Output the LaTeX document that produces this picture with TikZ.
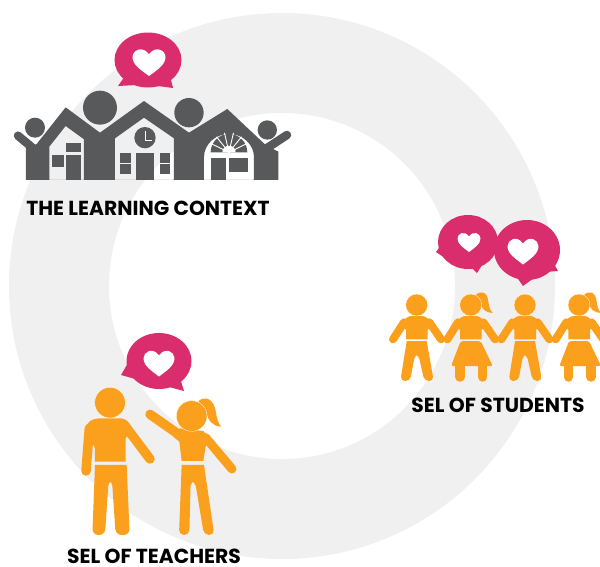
\documentclass[tikz,border=0pt]{standalone}
\usepackage{fontspec}
\newfontfamily\labelfont{Poppins}
\definecolor{ringGray}{HTML}{F0F0F0}
\definecolor{houseGray}{HTML}{58595B}
\definecolor{bubblePink}{HTML}{D92D6D}
\definecolor{peopleOrange}{HTML}{FBA01D}
\tikzset{
	sellabel/.style = {font = \labelfont\bfseries\fontsize{20.3}{22}\selectfont, text = black, inner sep = 0pt},
	bubble/.style = {fill = bubblePink},
	limb/.style = {draw = peopleOrange, line cap = round, line width = #1},
	houselimb/.style = {draw = houseGray, line cap = round, line width = 8.5pt},
	heart/.pic = {
		\fill [white] (0, 0.5) .. controls (-0.25, 0.28) and (-0.5, 0.1) .. (-0.5, -0.18)
			.. controls (-0.5, -0.42) and (-0.2, -0.6) .. (0, -0.28)
			.. controls (0.2, -0.6) and (0.5, -0.42) .. (0.5, -0.18)
			.. controls (0.5, 0.1) and (0.25, 0.28) .. (0, 0.5) -- cycle;
	},
	kidboy/.pic = {
		\fill [peopleOrange] (-32, 103) -- (-32, 75) [rounded corners = 3pt] -- (-48, 55) -- (-25, 33) -- (25, 33) -- (48, 55) [sharp corners] -- (33, 75) -- (33, 103) -- cycle;
		\draw [limb = 8pt] (-38, 52) to (-71, 103);
		\draw [limb = 8pt] (38, 52) to (73, 103);
		\fill [peopleOrange] (-30, 108) -- (30, 108) [rounded corners = 4.5pt] -- (51, 228) -- (23, 228) -- (5, 148) -- (-5, 148) -- (-20, 228) -- (-49, 228) [sharp corners] -- cycle;
		\fill [peopleOrange, draw = white, line width = 0.3pt] (0, 0) circle (33);
	},
	kidgirl/.pic = {
		\fill [peopleOrange] (15, -30) .. controls (30, -45) and (50, -40) .. (53, -10)
			.. controls (55, 5) and (58, 15) .. (66, 24) .. controls (45, 24) and (32, 10) .. (30, -5) -- cycle;
		\fill [peopleOrange] (-32, 103) -- (-32, 75) [rounded corners = 3pt] -- (-48, 55) -- (-25, 33) -- (25, 33) -- (48, 55) [sharp corners] -- (33, 75) -- (33, 103) -- cycle;
		\draw [limb = 8pt] (-38, 52) to (-70, 103);
		\draw [limb = 8pt] (38, 52) to (73, 103);
		\fill [peopleOrange, rounded corners = 2pt] (-30, 108) -- (30, 108) -- (66, 183) -- (-59, 183) -- cycle;
		\draw [limb = 9.5pt] (-32, 180) to (-32, 216);
		\draw [limb = 9.5pt] (36, 180) to (36, 216);
		\fill [peopleOrange, draw = white, line width = 0.3pt] (0, 0) circle (33);
	}
}

\begin{document}
\begin{tikzpicture}[x = 1pt, y = -1pt]
		\clip (0, 0) rectangle (600, 566);
		%%%%%%%%%%%%% ring
		\fill [ringGray, even odd rule] (282, 286) circle (273) (282, 286) circle (173);
		%%%%%%%%%%%%% houses
		\begin{scope}[shift = {(0, 20)}, scale = 0.3333]
			\draw [houselimb] (54, 347) to (97, 383);
			\draw [houselimb] (803, 383) to (861, 345);
			\fill [houseGray, even odd rule] (78, 480) -- (78, 385) -- (110, 372) -- (197, 262) -- (300, 338) -- (432, 243)
				-- (567, 338) -- (682, 267) -- (797, 375) -- (835, 395) -- (835, 480) -- cycle
				(148, 480) -- (148, 380) -- (197, 318) -- (252, 358) -- (252, 480) -- cycle
				(345, 480) -- (345, 355) -- (432, 293) -- (522, 355) -- (522, 480) -- cycle
				(612, 480) -- (612, 412) arc [start angle = 180, end angle = 360, x radius = 75, y radius = 70] -- (762, 480) -- cycle;
			\fill [houseGray] (300, 263) circle (51);
			\fill [houseGray] (567, 278) circle (44);
			\fill [houseGray] (105, 323) circle (30);
			\fill [houseGray] (802, 330) circle (29);
			%%%%%%%%%%%%% house one
			\fill [houseGray] (197, 370) rectangle (243, 397);
			\fill [houseGray] (155, 405) rectangle (192, 440);
			\fill [houseGray] (197, 405) rectangle (243, 480);
			%%%%%%%%%%%%% house two
			\fill [houseGray] (435, 353) circle (32);
			\draw [white, line width = 0.8pt] (435, 332) -- (435, 361) -- (456, 361);
			\fill [houseGray] (360, 398) rectangle (392, 428);
			\fill [houseGray] (360, 433) rectangle (392, 463);
			\fill [houseGray] (408, 400) rectangle (462, 480);
			\fill [houseGray] (480, 398) rectangle (510, 428);
			\fill [houseGray] (480, 433) rectangle (510, 463);
			%%%%%%%%%%%%% house three
			\fill [houseGray] (632, 397) arc [start angle = 180, end angle = 360, radius = 55] -- cycle;
			\foreach \ang in {206, 231, 257, 283, 309, 334} {
				\draw [white, line width = 0.9pt] (687, 397) -- ++(\ang : 60);
			}
			\fill [white] (667, 397) arc [start angle = 180, end angle = 360, radius = 20] -- cycle;
			\fill [houseGray] (633, 413) rectangle (677, 480);
			\fill [houseGray] (688, 413) rectangle (743, 457);
		\end{scope}
		%%%%%%%%%%%%% bubble above the houses
		\fill [bubble] (148, 60) ellipse [x radius = 33.5, y radius = 27.5];
		\fill [bubble] (118, 86) -- (125, 76) -- (137, 85) -- cycle;
		\fill [bubble] (173, 88) -- (170, 76) -- (158, 86) -- cycle;
		\pic [xscale = 33, yscale = 28] at (149, 62) {heart};
		%%%%%%%%%%%%% bubbles of the students
		\fill [bubble] (468, 242) ellipse [x radius = 30, y radius = 27];
		\fill [bubble] (436, 252) -- (444, 241) -- (451, 262) -- cycle;
		\fill [bubble] (477, 273) -- (469, 265) -- (484, 262) -- cycle;
		\fill [bubble] (527, 250) ellipse [x radius = 33, y radius = 30];
		\fill [bubble] (558, 271) -- (552, 260) -- (544, 272) -- cycle;
		\fill [bubble] (523, 286) -- (516, 276) -- (534, 278) -- cycle;
		\pic [xscale = 23, yscale = 20] at (469, 242) {heart};
		\pic [xscale = 31, yscale = 27] at (523, 251) {heart};
		%%%%%%%%%%%%% students
		\pic [scale = 0.3333] at (416.7, 305) {kidboy};
		\pic [scale = 0.3333] at (470.7, 305) {kidgirl};
		\pic [scale = 0.3333] at (525, 305) {kidboy};
		\pic [scale = 0.3333] at (579, 305) {kidgirl};
		%%%%%%%%%%%%% bubble of the teachers
		\fill [bubble] (159, 361) ellipse [x radius = 32.5, y radius = 28];
		\fill [bubble] (121, 375) -- (128, 363) -- (139, 380) -- cycle;
		\fill [bubble] (184, 391) -- (180, 378) -- (169, 387) -- cycle;
		\pic [xscale = 31, yscale = 27] at (159, 363) {heart};
		%%%%%%%%%%%%% teachers
		\begin{scope}[shift = {(60, 325)}, scale = 0.3333]
			\fill [peopleOrange] (105, 410) -- (105, 370) -- (75, 310) [rounded corners = 3pt] -- (88, 288) -- (110, 280) -- (190, 280) -- (208, 292) -- (215, 310) [sharp corners] -- (197, 340) -- (197, 410) -- cycle;
			\draw [limb = 9.5pt] (88, 310) to (78, 438);
			\draw [limb = 9.5pt] (197, 305) to (270, 402);
			\fill [peopleOrange] (105, 420) -- (200, 420) [rounded corners = 6pt] -- (209, 630) -- (167, 630) -- (156, 465) -- (146, 465) -- (135, 630) -- (97, 630) [sharp corners] -- cycle;
			\fill [peopleOrange, draw = white, line width = 0.3pt] (150, 233) circle (46);
			%%%%%%%%%%%%%
			\fill [peopleOrange] (415, 228) .. controls (440, 210) and (462, 225) .. (468, 262)
				.. controls (470, 280) and (475, 295) .. (483, 305) .. controls (460, 305) and (442, 285) .. (440, 262) -- cycle;
			\fill [peopleOrange] (365, 408) -- (358, 350) -- (340, 335) -- (360, 310) -- (430, 318) -- (450, 340) -- (437, 365) -- (430, 408) -- cycle;
			\draw [limb = 9.5pt] (270, 268) to (370, 338);
			\draw [limb = 9pt] (437, 338) to (516, 432);
			\fill [peopleOrange] (365, 420) -- (432, 420) [rounded corners = 5pt] -- (463, 630) -- (432, 630) -- (405, 468) -- (392, 468) -- (388, 630) -- (357, 630) [sharp corners] -- cycle;
			\fill [peopleOrange, draw = white, line width = 0.3pt] (395, 273) circle (46);
		\end{scope}
		%%%%%%%%%%%%% labels
		\node [sellabel] (contextlabel) at (148, 208) {THE LEARNING CONTEXT};
		\node [sellabel] (studentslabel) at (498, 405) {SEL OF STUDENTS};
		\node [sellabel] (teacherslabel) at (154, 556.5) {SEL OF TEACHERS};
\end{tikzpicture}
\end{document}
